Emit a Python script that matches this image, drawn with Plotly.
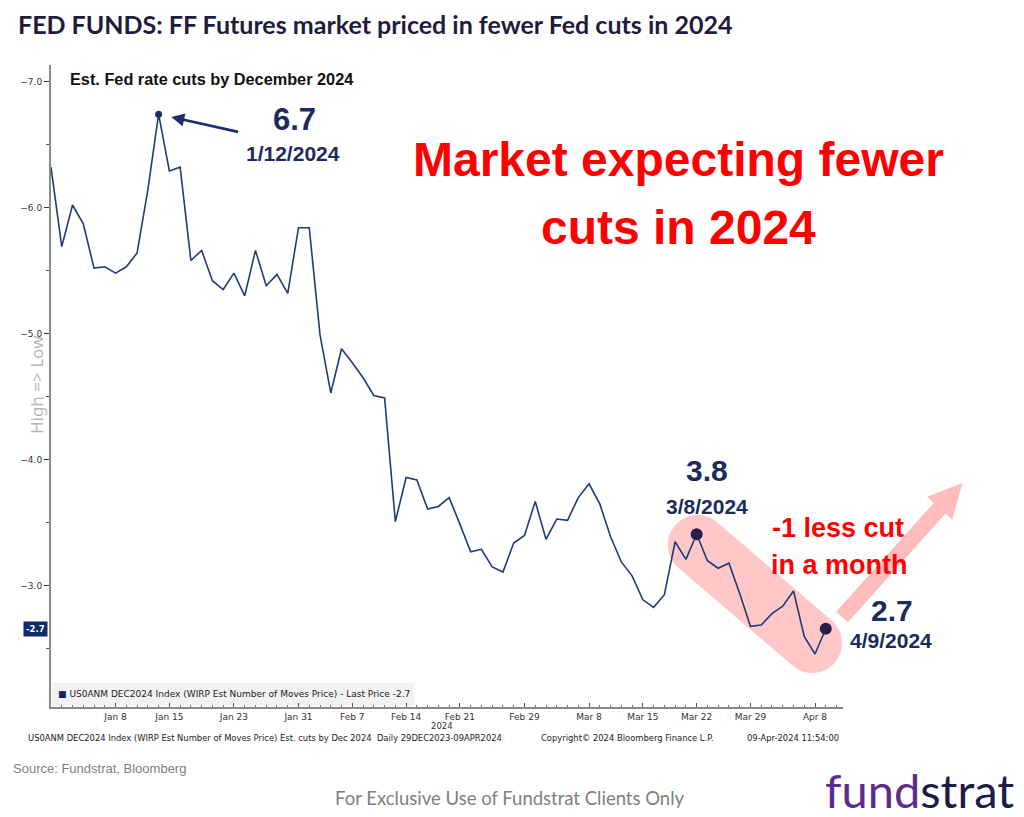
import math
import pandas as pd
import plotly.graph_objects as go

# ---------------- data ----------------
start_date = "2023-12-29"
end_date = "2024-04-09"
dates = list(pd.bdate_range(start_date, end_date))

# Est. number of Fed moves priced by Dec 2024 (negative = cuts), one per business day
est_cuts = [
    -6.32, -5.69, -6.02, -5.87, -5.52, -5.53, -5.48, -5.53, -5.64, -6.14,
    -6.74, -6.29, -6.32, -5.58, -5.66, -5.42, -5.35, -5.48, -5.30, -5.66,
    -5.38, -5.47, -5.32, -5.84, -5.84, -4.99, -4.53, -4.88, -4.77, -4.65,
    -4.51, -4.49, -3.51, -3.86, -3.84, -3.61, -3.63, -3.70, -3.49, -3.27,
    -3.29, -3.15, -3.11, -3.34, -3.40, -3.67, -3.37, -3.53, -3.52, -3.70,
    -3.81, -3.65, -3.39, -3.19, -3.08, -2.89, -2.83, -2.93, -3.35, -3.21,
    -3.41, -3.20, -3.14, -3.18, -2.94, -2.68, -2.69, -2.78, -2.84, -2.96,
    -2.60, -2.46, -2.66,
]

tick_dates = ["2024-01-08", "2024-01-15", "2024-01-23", "2024-01-31", "2024-02-07",
              "2024-02-14", "2024-02-21", "2024-02-29", "2024-03-08", "2024-03-15",
              "2024-03-22", "2024-03-29", "2024-04-08"]
tick_labels = ["Jan 8", "Jan 15", "Jan 23", "Jan 31", "Feb 7", "Feb 14", "Feb 21",
               "Feb 29", "Mar 8", "Mar 15", "Mar 22", "Mar 29", "Apr 8"]

peak_idx = 10        # 6.7 label
mid_idx = 60         # 3.8 label
last_idx = len(est_cuts) - 1

# ---------------- layout helpers (screen pixel coordinates) ----------------
OFF = 8                      # page body margin
W, H = 1024 - OFF, 817 - OFF
L, R, T, B = 47, 843, 65, 707


def px(x):
    return (x - L) / (R - L)


def py(y):
    return (B - y) / (B - T)


x_idx = list(range(len(dates)))
date_strs = [d.strftime("%Y-%m-%d") for d in dates]
tick_pos = [date_strs.index(d) for d in tick_dates]

NAVY = "#1c2b5e"
LINE = "#1f3c7a"
RED = "#ff0000"

fig = go.Figure()
fig.add_trace(go.Scatter(x=x_idx, y=est_cuts, mode="lines",
                         line=dict(color=LINE, width=1.6), hoverinfo="skip",
                         showlegend=False))
fig.add_trace(go.Scatter(x=[peak_idx], y=[est_cuts[peak_idx]], mode="markers",
                         marker=dict(color="#1b2f6e", size=7), showlegend=False))
fig.add_trace(go.Scatter(x=[mid_idx, last_idx], y=[est_cuts[mid_idx], est_cuts[last_idx]],
                         mode="markers", marker=dict(color="#2a1f48", size=12),
                         showlegend=False))


def capsule_path(c1, c2, r):
    k = 0.5523
    phi = math.atan2(c2[1] - c1[1], c2[0] - c1[0])

    def p(c, th):
        return (c[0] + r * math.cos(th), c[1] + r * math.sin(th))

    def arc(c, th0):
        segs = []
        for q in range(2):
            a = th0 + q * math.pi / 2
            b = a + math.pi / 2
            p0 = p(c, a)
            p1 = p(c, b)
            cp1 = (p0[0] - k * r * math.sin(a), p0[1] + k * r * math.cos(a))
            cp2 = (p1[0] + k * r * math.sin(b), p1[1] - k * r * math.cos(b))
            segs.append("C%.5f,%.5f %.5f,%.5f %.5f,%.5f" % (
                px(cp1[0]), py(cp1[1]), px(cp2[0]), py(cp2[1]), px(p1[0]), py(p1[1])))
        return " ".join(segs)

    s = p(c1, phi - math.pi / 2)
    e = p(c2, phi - math.pi / 2)
    f = p(c1, phi + math.pi / 2)
    path = "M%.5f,%.5f L%.5f,%.5f " % (px(s[0]), py(s[1]), px(e[0]), py(e[1]))
    path += arc(c2, phi - math.pi / 2)
    path += " L%.5f,%.5f " % (px(f[0]), py(f[1]))
    path += arc(c1, phi + math.pi / 2)
    return path + " Z"


def arrow_path(s, t, hw, hl, hh):
    dx, dy = t[0] - s[0], t[1] - s[1]
    ln = math.hypot(dx, dy)
    ux, uy = dx / ln, dy / ln
    nx, ny = -uy, ux
    hx, hy = t[0] - hl * ux, t[1] - hl * uy
    pts = [(s[0] + hw * nx, s[1] + hw * ny), (hx + hw * nx, hy + hw * ny),
           (hx + hh * nx, hy + hh * ny), t, (hx - hh * nx, hy - hh * ny),
           (hx - hw * nx, hy - hw * ny), (s[0] - hw * nx, s[1] - hw * ny)]
    return "M" + " L".join("%.5f,%.5f" % (px(a), py(b)) for a, b in pts) + " Z"


shapes = [
    dict(type="path", xref="paper", yref="paper", layer="below",
         path=capsule_path((697, 545), (812, 643), 30),
         fillcolor="rgba(255,130,130,0.45)", line=dict(width=0)),
    dict(type="path", xref="paper", yref="paper",
         path=arrow_path((842, 617), (963, 483), 8, 34, 17),
         fillcolor="#ffbcbc", line=dict(width=0)),
    dict(type="rect", xref="paper", yref="paper", layer="below",
         x0=px(48), x1=px(412), y0=py(706), y1=py(683),
         fillcolor="#f2f2f2", line=dict(width=0)),
]


def txt(x, y, text, size, color, family="Liberation Sans", xanchor="center",
        bold=True, **kw):
    return dict(xref="paper", yref="paper", x=px(x), y=py(y),
                text=("<b>%s</b>" % text) if bold else text,
                showarrow=False, xanchor=xanchor, yanchor="middle",
                font=dict(family=family, size=size, color=color), **kw)


TICKF = "DejaVu Sans"
annotations = [
    txt(12, 24, "FED FUNDS: FF Futures market priced in fewer Fed cuts in 2024", 25,
        "#1e1d3d", family="Lato", xanchor="left"),
    txt(64, 79, "Est. Fed rate cuts by December 2024", 16.3, "#111111", xanchor="left"),
    txt(292, 120, "6.7", 31, NAVY),
    txt(290, 153, "1/12/2024", 21, NAVY),
    txt(678, 160, "Market expecting fewer", 48, RED),
    txt(678, 227, "cuts in 2024", 48, RED),
    txt(706, 470, "3.8", 30, NAVY),
    txt(706, 506, "3/8/2024", 21, NAVY),
    txt(838, 528, "-1 less cut", 27, RED),
    txt(839, 565, "in a month", 27, RED),
    txt(892, 610, "2.7", 30, NAVY),
    txt(891, 640, "4/9/2024", 21, NAVY),
    txt(32, 385, "High => Low", 17, "#b8b8b8", family="Noto Sans", bold=False, textangle=-90),
    txt(440, 726, "2024", 8.5, "#333333", family=TICKF, bold=False),
    txt(22, 738, "US0ANM DEC2024 Index (WIRP Est Number of Moves Price) Est. cuts by Dec 2024&nbsp;&nbsp;Daily 29DEC2023-09APR2024",
        8.4, "#222222", family=TICKF, bold=False, xanchor="left"),
    txt(537, 738, "Copyright© 2024 Bloomberg Finance L.P.", 8.4, "#222222", family=TICKF,
        bold=False, xanchor="left"),
    txt(841, 738, "09-Apr-2024 11:54:00", 8.4, "#222222", family=TICKF, bold=False,
        xanchor="right"),
    txt(52, 694, "<span style='color:#0d2366'>■</span> US0ANM DEC2024 Index (WIRP Est Number of Moves Price) - Last Price -2.7",
        9, "#222222", family=TICKF, bold=False, xanchor="left"),
    txt(7, 768, "Source: Fundstrat, Bloomberg", 13, "#808080",
        family="Liberation Sans Narrow, Liberation Sans", bold=False, xanchor="left"),
    txt(508, 798, "For Exclusive Use of Fundstrat Clients Only", 18.5, "#808080",
        family="Lato", bold=False),
    txt(920, 790, "<span style='color:#5b2c90'>fund</span><span style='color:#1b1d47'>strat</span>",
        47, "#1b1d47", family="Lato", bold=False),
    dict(xref="x", yref="y", x=peak_idx, y=est_cuts[peak_idx], text="",
         showarrow=True, ax=81, ay=18, axref="pixel", ayref="pixel",
         arrowhead=2, arrowsize=1, arrowwidth=2.6, arrowcolor="#1c2f6a", standoff=13),
    dict(xref="paper", yref="y", x=0, y=est_cuts[last_idx], text="<b>-2.7</b>",
         showarrow=False, xanchor="right", yanchor="middle", xshift=-3,
         bgcolor="#0f2b6b", borderpad=2,
         font=dict(family=TICKF, size=8.5, color="white")),
]

fig.update_layout(
    width=W, height=H,
    margin=dict(l=L - OFF, r=W - (R - OFF), t=T - OFF, b=H - (B - OFF)),
    paper_bgcolor="white", plot_bgcolor="white",
    showlegend=False,
    shapes=shapes,
    annotations=annotations,
    xaxis=dict(range=[0, 73.6], tickmode="array", tickvals=tick_pos, ticktext=tick_labels,
               showgrid=False, zeroline=False, showline=True, linecolor="#8a8a8a",
               linewidth=2, ticks="inside", ticklen=4, tickcolor="#555",
               tickfont=dict(family=TICKF, size=9, color="#333333"),
               minor=dict(dtick=1, tick0=0, ticks="inside", ticklen=2, tickcolor="#777")),
    yaxis=dict(range=[-2.04, -7.13], dtick=1, tick0=0, tickformat=".1f",
               showgrid=False, zeroline=False, showline=True, linecolor="#8a8a8a",
               linewidth=2, ticks="outside", ticklen=5, tickcolor="#333",
               tickfont=dict(family=TICKF, size=9, color="#333333"),
               minor=dict(dtick=0.5, tick0=0, ticks="outside", ticklen=3, tickcolor="#555")),
)

fig.write_html("out.html")
